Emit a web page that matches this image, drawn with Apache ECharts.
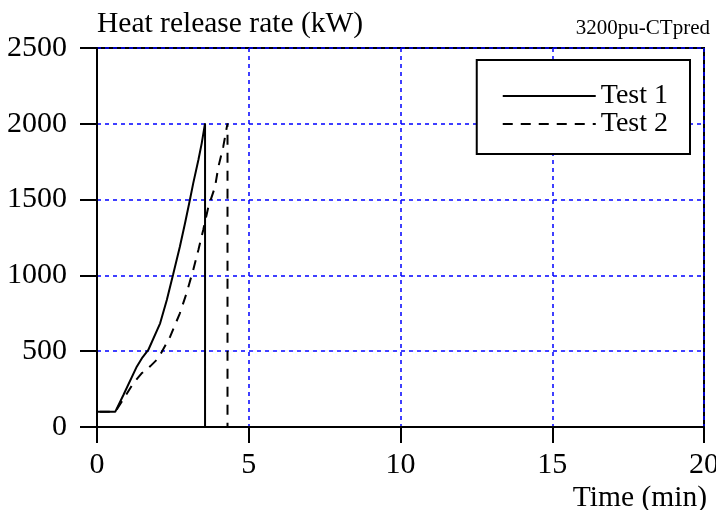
<!DOCTYPE html>
<html>
<head>
<meta charset="utf-8">
<script src="https://cdn.jsdelivr.net/npm/echarts@6/dist/echarts.min.js"></script>
<style>html,body{margin:0;padding:0;background:#fff}#c{width:716px;height:510px}</style>
</head>
<body>
<div id="c"></div>
<script>
var seriesNames = ['Test 1', 'Test 2'];
var test1 = [[0,0],[0,100],[0.6,100],[0.87,211],[1.31,398],[1.5,460],[1.69,508],[2.08,684],[2.3,838],[2.51,1007],[2.73,1189],[2.9,1344],[3.06,1497],[3.17,1607],[3.34,1761],[3.45,1871],[3.56,2003],[3.56,0],[20,0]];
var test2 = [[0,0],[0,100],[0.6,100],[0.92,200],[1.2,290],[1.47,354],[1.75,400],[2.02,453],[2.41,596],[2.73,750],[2.95,882],[3.17,1036],[3.34,1168],[3.5,1300],[3.67,1453],[3.89,1585],[4.0,1717],[4.16,1849],[4.3,2003],[4.3,0],[20,0]];
var xTicks = {min: 0, max: 20, interval: 5};
var yTicks = {min: 0, max: 2500, interval: 500};
var titleText = 'Heat release rate (kW)';
var idText = '3200pu-CTpred';
var xName = 'Time (min)';

var FONT = "'Liberation Serif','Times New Roman',serif";
var chart = echarts.init(document.getElementById('c'), null, {renderer: 'canvas'});
chart.setOption({
  animation: false,
  backgroundColor: '#fff',
  grid: {left: 97, right: 12, top: 48, bottom: 83, containLabel: false, outerBoundsMode: 'none', show: true, borderColor: '#000', borderWidth: 2, backgroundColor: 'transparent'},
  xAxis: {
    type: 'value', min: xTicks.min, max: xTicks.max, interval: xTicks.interval,
    axisLine: {show: true, onZero: false, lineStyle: {color: '#000', width: 2}},
    axisTick: {show: true, inside: false, length: 16, lineStyle: {color: '#000', width: 2}},
    axisLabel: {color: '#000', fontFamily: FONT, fontSize: 30, margin: 23, formatter: function (v) { return String(v); }},
    splitLine: {show: true, lineStyle: {color: '#0000ff', width: 1.5, type: [4,4]}}
  },
  yAxis: {
    type: 'value', min: yTicks.min, max: yTicks.max, interval: yTicks.interval,
    axisLine: {show: true, onZero: false, lineStyle: {color: '#000', width: 2}},
    axisTick: {show: true, inside: false, length: 17, lineStyle: {color: '#000', width: 2}},
    axisLabel: {color: '#000', fontFamily: FONT, fontSize: 30, margin: 30, formatter: function (v) { return String(v); }},
    splitLine: {show: true, lineStyle: {color: '#0000ff', width: 1.5, type: [4,4]}}
  },
  legend: {
    orient: 'vertical', right: 26, top: 60,
    padding: [22, 22, 16, 25],
    itemGap: 0, itemWidth: 93, itemHeight: 14,
    borderColor: '#000', borderWidth: 2, backgroundColor: '#fff',
    itemStyle: {opacity: 0},
    textStyle: {fontFamily: FONT, fontSize: 28, color: '#000', lineHeight: 28, padding: [0,0,0,0]},
    data: seriesNames
  },
  series: [
    {name: seriesNames[0], type: 'line', data: test1, symbol: 'none', lineStyle: {color: '#000', width: 2, type: 'solid'}, itemStyle: {color: '#000'}, z: 5},
    {name: seriesNames[1], type: 'line', data: test2, symbol: 'none', lineStyle: {color: '#000', width: 2, type: [10,8]}, itemStyle: {color: '#000'}, z: 5}
  ],
  graphic: [
    {type: 'text', left: 97, top: 9, style: {text: titleText, font: '29.5px ' + FONT, fill: '#000'}},
    {type: 'text', right: 6, top: 18, style: {text: idText, font: '21px ' + FONT, fill: '#000'}},
    {type: 'text', right: 9, top: 483, style: {text: xName, font: '29.5px ' + FONT, fill: '#000'}}
  ]
});
</script>
</body>
</html>
